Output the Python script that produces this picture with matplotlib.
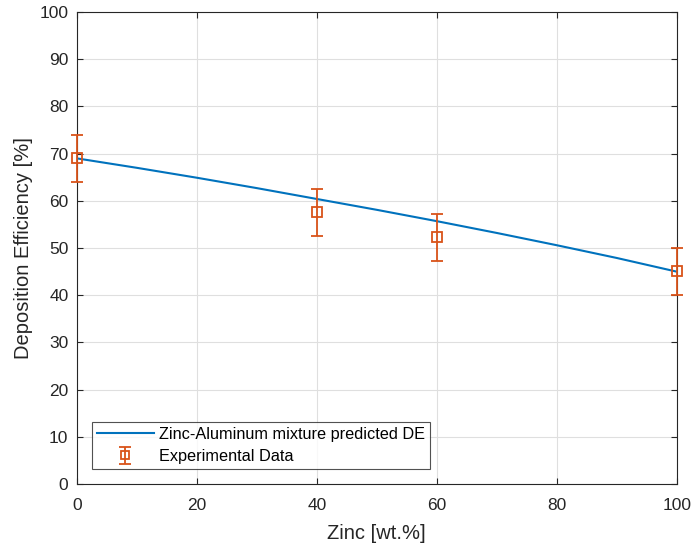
"""Deposition efficiency of Zn-Al mixtures: model curve vs. measured points."""

import matplotlib

matplotlib.use("Agg")
import matplotlib.pyplot as plt


# model prediction
zinc_model = [0, 10, 20, 30, 40, 50, 60, 70, 80, 90, 100]
de_model = [69.0, 67.0, 64.9, 62.7, 60.4, 58.1, 55.7, 53.2, 50.6, 47.9, 45.0]

# measurements
zinc_exp = [0, 40, 60, 100]
de_exp = [69.0, 57.6, 52.3, 45.1]
de_err = [5, 5, 5, 5]

BLUE = "#0072BD"
ORANGE = "#D95319"
AXIS_COLOR = "#262626"

plt.rcParams["font.family"] = ["Liberation Sans", "DejaVu Sans"]

fig = plt.figure(figsize=(6.92, 5.47), dpi=100)
ax = fig.add_axes([0.111, 0.115, 0.867, 0.863])

ax.plot(zinc_model, de_model, color=BLUE, linewidth=1.5,
        label="Zinc-Aluminum mixture predicted DE", zorder=3)
ax.errorbar(zinc_exp, de_exp, yerr=de_err, fmt="s", color=ORANGE,
            markerfacecolor="none", markeredgewidth=1.3, markersize=7.5,
            elinewidth=1.3, capsize=4.5, capthick=1.3,
            label="Experimental Data", zorder=4, clip_on=False)

ax.set_xlim(0, 100)
ax.set_ylim(0, 100)
ax.set_xticks(range(0, 101, 20))
ax.set_yticks(range(0, 101, 10))
ax.grid(True, color="#dfdfdf", linewidth=0.8)
ax.set_axisbelow(True)

for spine in ax.spines.values():
    spine.set_color(AXIS_COLOR)
    spine.set_linewidth(0.8)
ax.tick_params(direction="in", length=4, width=0.8, colors=AXIS_COLOR,
               labelsize=12.5, top=True, right=True, labeltop=False, labelright=False)
ax.tick_params(axis="x", pad=10)
ax.tick_params(axis="y", pad=6)

ax.set_xlabel("Zinc [wt.%]", fontsize=14.5, color=AXIS_COLOR, labelpad=8)
ax.set_ylabel("Deposition Efficiency [%]", fontsize=14.5, color=AXIS_COLOR, labelpad=5)

leg = ax.legend(loc="lower left", bbox_to_anchor=(0.025, 0.032), fontsize=11.7,
                frameon=True, fancybox=False, edgecolor=AXIS_COLOR,
                borderpad=0.3, handlelength=3.5, handletextpad=0.35,
                labelspacing=0.45, borderaxespad=0.0, markerscale=0.75)
leg.get_frame().set_linewidth(0.8)

fig.savefig("out.png", dpi=100)
